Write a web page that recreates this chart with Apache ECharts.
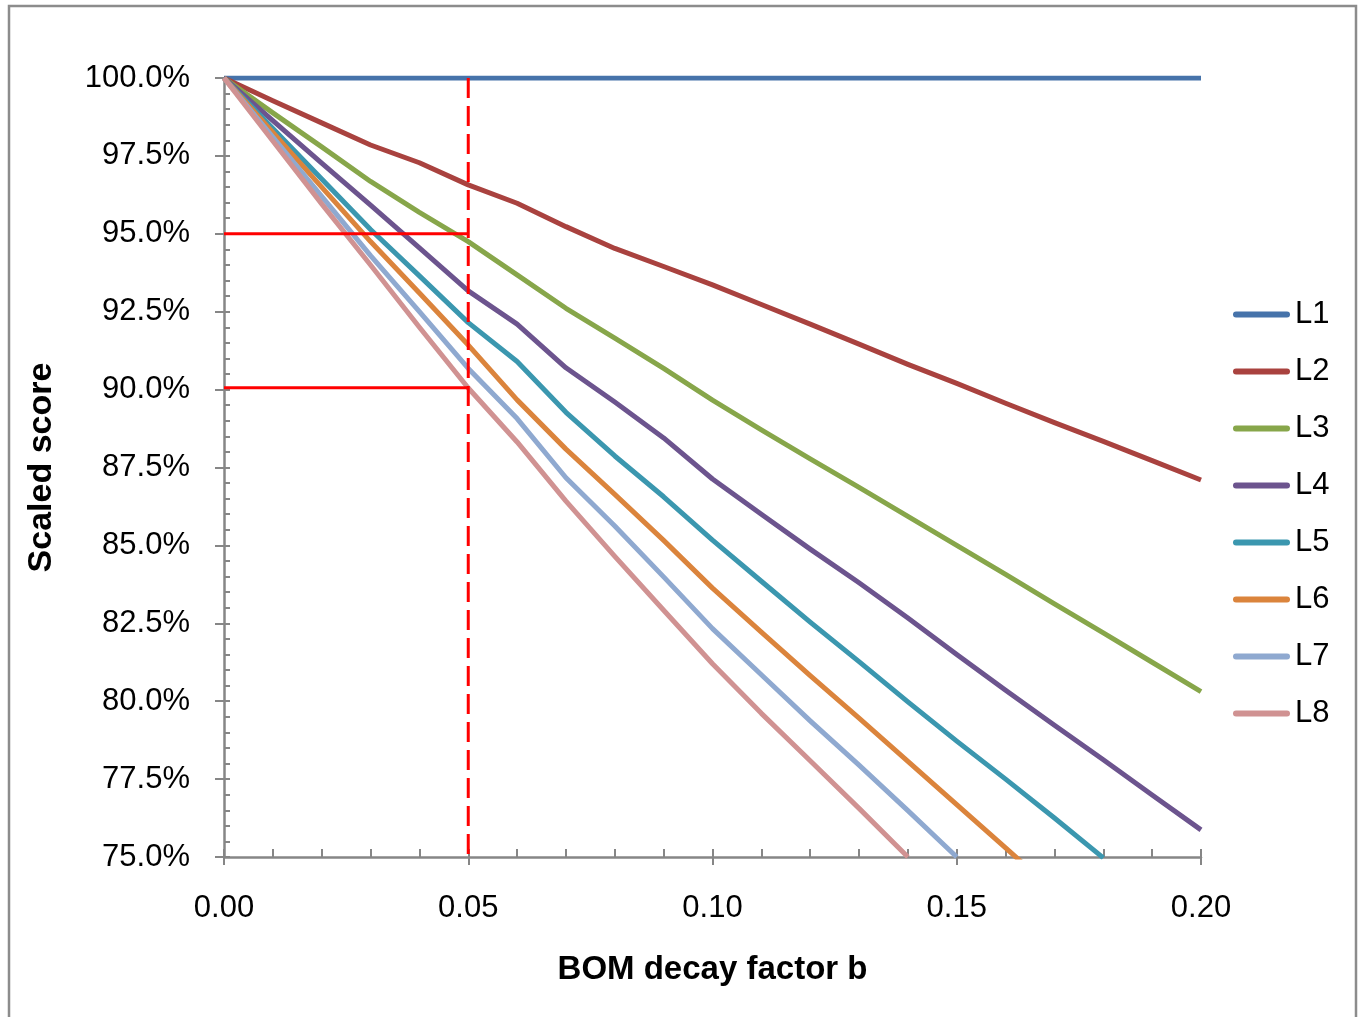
<!DOCTYPE html>
<html>
<head>
<meta charset="utf-8">
<title>Scaled score vs BOM decay factor</title>
<script src="https://cdn.jsdelivr.net/npm/echarts@6/dist/echarts.min.js"></script>
<style>
  html, body { margin: 0; padding: 0; background: #ffffff; }
  #chart { width: 1364px; height: 1017px; }
</style>
</head>
<body>
<div id="chart"></div>
<script>
// BOM decay factor b (x) and scaled score in percent (y) for each level
const bValues = [0.00, 0.01, 0.02, 0.03, 0.04, 0.05, 0.06, 0.07, 0.08, 0.09, 0.10,
                 0.11, 0.12, 0.13, 0.14, 0.15, 0.16, 0.17, 0.18, 0.19, 0.20];

const L1 = [100, 100, 100, 100, 100, 100, 100, 100, 100, 100, 100,
            100, 100, 100, 100, 100, 100, 100, 100, 100, 100];
const L2 = [100, 99.27, 98.56, 97.85, 97.28, 96.57, 95.98, 95.23, 94.53, 93.95, 93.36,
            92.73, 92.10, 91.46, 90.81, 90.20, 89.56, 88.94, 88.34, 87.72, 87.10];
const L3 = [100, 98.88, 97.79, 96.68, 95.69, 94.75, 93.68, 92.61, 91.65, 90.68, 89.66,
            88.71, 87.78, 86.86, 85.93, 85.00, 84.07, 83.12, 82.19, 81.25, 80.31];
const L4 = [100, 98.63, 97.27, 95.92, 94.55, 93.17, 92.10, 90.70, 89.60, 88.45, 87.13,
            86.00, 84.88, 83.80, 82.67, 81.50, 80.35, 79.23, 78.12, 76.99, 75.87];
const L5 = [100, 98.38, 96.76, 95.14, 93.65, 92.15, 90.90, 89.27, 87.87, 86.56, 85.17,
            83.85, 82.54, 81.27, 79.98, 78.72, 77.50, 76.25, 74.97, null, null];
const L6 = [100, 98.25, 96.50, 94.75, 93.10, 91.43, 89.67, 88.09, 86.64, 85.16, 83.63,
            82.22, 80.82, 79.46, 78.07, 76.68, 75.29, 73.90, null, null, null];
const L7 = [100, 98.10, 96.20, 94.30, 92.50, 90.68, 89.07, 87.17, 85.62, 83.99, 82.33,
            80.85, 79.37, 77.95, 76.49, 75.00, null, null, null, null, null];
const L8 = [100, 97.98, 95.96, 94.00, 92.00, 90.05, 88.32, 86.42, 84.65, 82.92, 81.20,
            79.61, 78.09, 76.56, 75.00, null, null, null, null, null, null];

const seriesNames = ['L1', 'L2', 'L3', 'L4', 'L5', 'L6', 'L7', 'L8'];
const seriesValues = [L1, L2, L3, L4, L5, L6, L7, L8];
const seriesColors = ['#4673aa', '#a9423f', '#87a64a', '#6c548e',
                      '#3b97af', '#db843c', '#8fa9d0', '#d09292'];

const refB = 0.05;
const refLevels = [95.0, 90.06];

// Axis ranges and tick steps
const xMin = 0, xMax = 0.20, xMajor = 0.05, xMinor = 0.01;
const yMin = 75, yMax = 100, yMajor = 2.5, yMinor = 0.5;

const FONT = "'Liberation Sans', Arial, Helvetica, sans-serif";
const AXIS_GREY = '#868686';
// rounded bar used as the legend key
const LEGEND_KEY = 'path://M3,0 L54,0 A3,3 0 0 1 54,6 L3,6 A3,3 0 0 1 3,0 Z';

const chart = echarts.init(document.getElementById('chart'), null, { renderer: 'canvas' });

const pairs = (ys) => bValues.map((b, i) => [b, ys[i]]);

const dataSeries = seriesNames.map((name, k) => ({
  name: name,
  type: 'line',
  data: pairs(seriesValues[k]),
  symbol: 'none',
  showSymbol: false,
  connectNulls: false,
  clip: true,
  z: 2 + k,
  lineStyle: { color: seriesColors[k], width: 5, join: 'round' },
  itemStyle: { color: seriesColors[k] },
  emphasis: { disabled: true }
}));

const refStyle = { color: '#ff0000', width: 3 };
const refSeries = [
  {
    type: 'line',
    data: [[refB, yMax], [refB, yMin]],
    symbol: 'none',
    z: 20,
    lineStyle: Object.assign({ type: [20, 8] }, refStyle),
    emphasis: { disabled: true },
    silent: true
  }
].concat(refLevels.map(v => ({
  type: 'line',
  data: [[xMin, v], [refB, v]],
  symbol: 'none',
  z: 20,
  lineStyle: Object.assign({ type: 'solid' }, refStyle),
  emphasis: { disabled: true },
  silent: true
})));

const option = {
  animation: false,
  backgroundColor: '#ffffff',
  textStyle: { fontFamily: FONT },
  graphic: [{
    type: 'rect',
    shape: { x: 9, y: 6, width: 1347, height: 1100 },
    style: { fill: 'none', stroke: '#8c8c8c', lineWidth: 2.5 },
    silent: true,
    z: -10
  }],
  grid: { left: 224, top: 78, right: 163, bottom: 160, containLabel: false },
  legend: {
    data: seriesNames.map((n, k) => ({ name: n, icon: LEGEND_KEY, itemStyle: { color: seriesColors[k] } })),
    orient: 'vertical',
    left: 1233,
    top: 299,
    padding: 0,
    itemWidth: 57,
    itemHeight: 6,
    itemGap: 26,
    selectedMode: false,
    textStyle: { fontFamily: FONT, fontSize: 31, color: '#000000', lineHeight: 30 }
  },
  xAxis: [
    {
      type: 'value',
      position: 'bottom',
      min: xMin, max: xMax, interval: xMajor,
      name: 'BOM decay factor b',
      nameLocation: 'middle',
      nameGap: 96,
      nameTextStyle: { fontFamily: FONT, fontSize: 33, fontWeight: 'bold', color: '#000000' },
      axisLine: { show: true, onZero: false, lineStyle: { color: AXIS_GREY, width: 2.5 } },
      axisTick: { show: true, inside: false, length: 8, lineStyle: { color: AXIS_GREY, width: 2 } },
      axisLabel: { show: true, margin: 36, fontFamily: FONT, fontSize: 31, color: '#000000',
                   formatter: v => v.toFixed(2) },
      splitLine: { show: false }
    },
    {
      type: 'value',
      position: 'bottom',
      min: xMin, max: xMax, interval: xMinor,
      axisLine: { show: false, onZero: false },
      axisTick: { show: true, inside: true, length: 8, lineStyle: { color: AXIS_GREY, width: 2 } },
      axisLabel: { show: false },
      splitLine: { show: false }
    }
  ],
  yAxis: [
    {
      type: 'value',
      position: 'left',
      min: yMin, max: yMax, interval: yMajor,
      name: 'Scaled score',
      nameLocation: 'middle',
      nameRotate: 90,
      nameGap: 165,
      nameTextStyle: { fontFamily: FONT, fontSize: 34, fontWeight: 'bold', color: '#000000' },
      axisLine: { show: true, onZero: false, lineStyle: { color: AXIS_GREY, width: 2.5 } },
      axisTick: { show: true, inside: false, length: 9, lineStyle: { color: AXIS_GREY, width: 2 } },
      axisLabel: { show: true, margin: 34, fontFamily: FONT, fontSize: 31, color: '#000000',
                   formatter: v => v.toFixed(1) + '%' },
      splitLine: { show: false }
    },
    {
      type: 'value',
      position: 'left',
      min: yMin, max: yMax, interval: yMinor,
      axisLine: { show: false, onZero: false },
      axisTick: { show: true, inside: true, length: 6, lineStyle: { color: AXIS_GREY, width: 2 } },
      axisLabel: { show: false },
      splitLine: { show: false }
    }
  ],
  series: dataSeries.concat(refSeries)
};

chart.setOption(option);
</script>
</body>
</html>
